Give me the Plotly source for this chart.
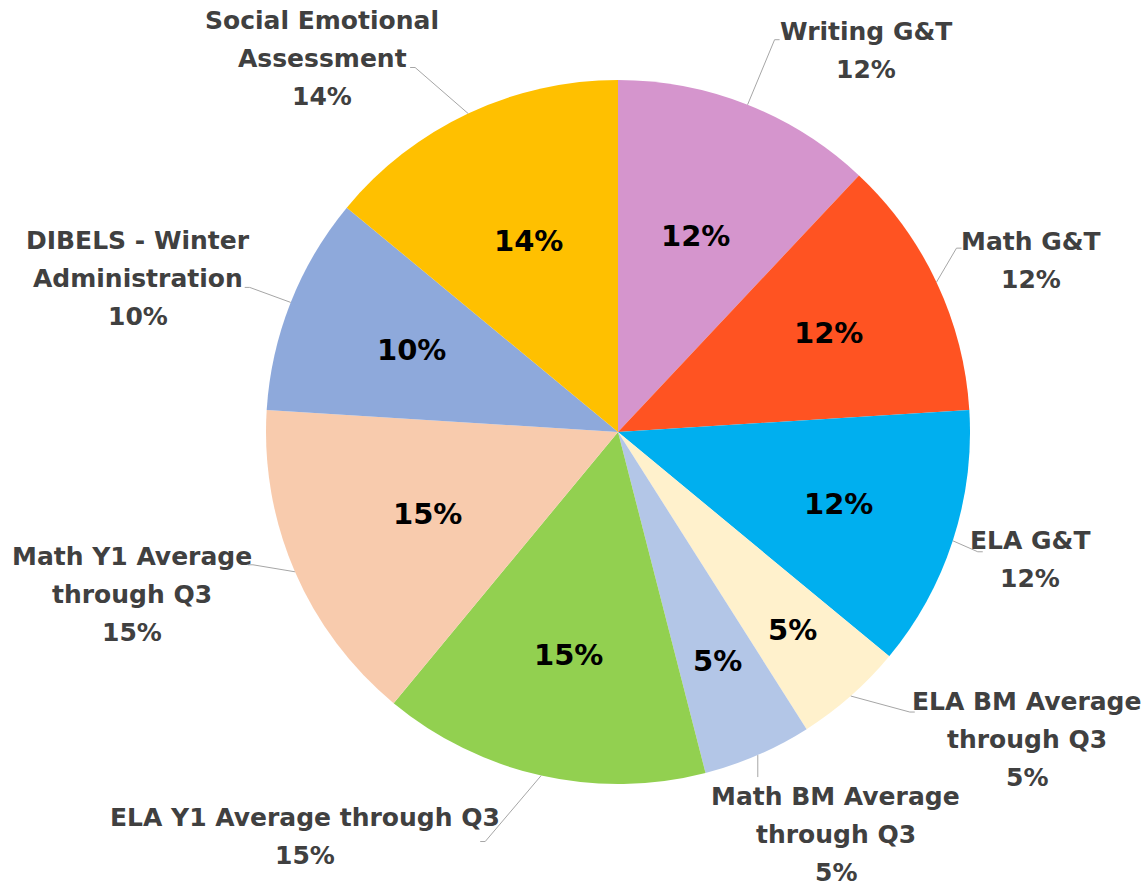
import math
import plotly.graph_objects as go

# ---- data ----
labels = [
    "Writing G&T", "Math G&T", "ELA G&T",
    "ELA BM Average through Q3", "Math BM Average through Q3",
    "ELA Y1 Average through Q3", "Math Y1 Average through Q3",
    "DIBELS - Winter Administration", "Social Emotional Assessment",
]
label_lines = [
    ["Writing G&T"], ["Math G&T"], ["ELA G&T"],
    ["ELA BM Average", "through Q3"], ["Math BM Average", "through Q3"],
    ["ELA Y1 Average through Q3"], ["Math Y1 Average", "through Q3"],
    ["DIBELS - Winter", "Administration"], ["Social Emotional", "Assessment"],
]
values = [12, 12, 12, 5, 5, 15, 15, 10, 14]
colors = ["#D595CD", "#FF5322", "#00AFEF", "#FFF1CC", "#B3C6E7",
          "#92D050", "#F8CBAD", "#8EA9DB", "#FFC000"]

# ---- label layout (pixels, relative to each slice's outer edge point) ----
label_offsets = [(118, -54), (95, -22), (77, 19), (176, 43), (78, 79),
                 (-236, 61), (-163, 23), (-153, -24), (-146, -55)]
leader_ends = [(27, -65), (20, -34), (25, 11), (59, 16), (0, 22),
               (-56, 66), (-42, -7), (-41, -15), (-53, -46)]
# radial position (fraction of radius) of the inside percentage labels
inside_r = [0.60, 0.66, 0.66, 0.75, 0.71, 0.65, 0.59, 0.63, 0.60]

# ---- geometry ----
W_FIG, H_FIG = 1147, 889
M_L, M_R, M_T, M_B = 150, 61, 80, 105
PW = W_FIG - M_L - M_R
PH = H_FIG - M_T - M_B
R = min(PW, PH) / 2
LINE_H = 38
LABEL_FONT = dict(family="DejaVu Sans", size=25, color="#404040", weight="bold")
INSIDE_FONT = dict(family="DejaVu Sans", size=29, color="#000000", weight="bold")
LEADER_COLOR = "#A6A6A6"


def to_paper(dx, dy):
    """pixel offset from pie centre (y down) -> paper coords"""
    return 0.5 + dx / PW, 0.5 - dy / PH


fig = go.Figure()
fig.add_trace(go.Pie(
    labels=labels,
    values=values,
    sort=False,
    direction="clockwise",
    rotation=0,
    marker=dict(colors=colors, line=dict(width=0)),
    textinfo="none",
    showlegend=False,
    hoverinfo="label+percent",
    domain=dict(x=[0, 1], y=[0, 1]),
))

total = sum(values)
cum = 0
annotations = []
shapes = []
for lines, v, (ox, oy), (lx, ly), fr in zip(label_lines, values, label_offsets,
                                             leader_ends, inside_r):
    mid = (cum + v / 2) / total * 2 * math.pi
    cum += v
    pct = f"{round(v / total * 100)}%"
    ex, ey = R * math.sin(mid), -R * math.cos(mid)

    # inside percentage
    ix, iy = to_paper(fr * R * math.sin(mid), -fr * R * math.cos(mid))
    annotations.append(dict(x=ix, y=iy, xref="paper", yref="paper", text=pct,
                            showarrow=False, xanchor="center", yanchor="middle",
                            font=INSIDE_FONT))

    # outside label, one annotation per line
    all_lines = lines + [pct]
    n = len(all_lines)
    cx, cy = to_paper(ex + ox, ey + oy)
    for i, t in enumerate(all_lines):
        annotations.append(dict(x=cx, y=cy, xref="paper", yref="paper", text=t,
                                showarrow=False, xanchor="center", yanchor="middle",
                                yshift=-(i - (n - 1) / 2) * LINE_H,
                                borderpad=0,
                                font=LABEL_FONT))

    # leader line: edge -> elbow -> short horizontal stub
    p0 = to_paper(ex, ey)
    p1 = to_paper(ex + lx, ey + ly)
    stub = 5 if ox > 0 else -5
    if lx == 0:
        stub = 0
    p2 = to_paper(ex + lx + stub, ey + ly)
    shapes.append(dict(
        type="path", xref="paper", yref="paper",
        path=f"M {p0[0]},{p0[1]} L {p1[0]},{p1[1]} L {p2[0]},{p2[1]}",
        line=dict(color=LEADER_COLOR, width=1),
    ))

fig.update_layout(
    width=W_FIG, height=H_FIG,
    margin=dict(l=M_L, r=M_R, t=M_T, b=M_B),
    paper_bgcolor="white",
    plot_bgcolor="white",
    annotations=annotations,
    shapes=shapes,
)

fig.write_html("out.html",
               config={"displayModeBar": False},
               post_script="document.body.style.margin='0px';")
